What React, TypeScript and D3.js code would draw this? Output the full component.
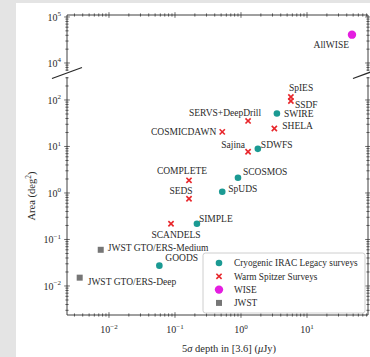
import React from 'react';
import * as d3 from 'd3';

// survey name, 5-sigma depth at 3.6um (uJy), area (deg^2), group
const surveys = ['AllWISE', 'SpIES', 'SSDF', 'SWIRE', 'SERVS+DeepDrill', 'COSMICDAWN', 'SHELA', 'Sajina', 'SDWFS',
  'SCOSMOS', 'SpUDS', 'SIMPLE', 'COMPLETE', 'SEDS', 'SCANDELS', 'JWST GTO/ERS-Medium', 'GOODS', 'JWST GTO/ERS-Deep'];
const depths = [48, 5.7, 5.7, 3.5, 1.28, 0.52, 3.2, 1.28, 1.8, 0.9, 0.52, 0.215, 0.163, 0.163, 0.087, 0.0075, 0.058, 0.0036];
const areas = [41253, 116, 95, 51, 35.4, 20.6, 24.4, 7.7, 8.9, 2.12, 1.06, 0.218, 1.87, 0.75, 0.218, 0.06, 0.0274, 0.0151];
const groups = ['WISE', 'Warm', 'Warm', 'Cryo', 'Warm', 'Warm', 'Warm', 'Warm', 'Cryo', 'Cryo', 'Cryo', 'Cryo',
  'Warm', 'Warm', 'Warm', 'JWST', 'Cryo', 'JWST'];

const legendKeys = ['Cryo', 'Warm', 'WISE', 'JWST'];
const legendLabels = ['Cryogenic IRAC Legacy surveys', 'Warm Spitzer Surveys', 'WISE', 'JWST'];

const xTickExps = [-2, -1, 0, 1];
const yUpperTickExps = [4, 5];
const yLowerTickExps = [-2, -1, 0, 1, 2];

const colors: Record<string, string> = { Cryo: '#1b9a93', Warm: '#e8262b', WISE: '#e41ee0', JWST: '#767676' };

// label placement next to each point: [dx, dy, anchor]
const labelPos: Record<string, [number, number, string]> = {
  AllWISE: [-3, 10, 'end'],
  SpIES: [-2, -9, 'start'],
  SSDF: [4, 4, 'start'],
  SWIRE: [7, 0, 'start'],
  'SERVS+DeepDrill': [-23, -8, 'middle'],
  COSMICDAWN: [-6, 0, 'end'],
  SHELA: [8, -3, 'start'],
  Sajina: [-3, -7, 'end'],
  SDWFS: [3, -4, 'start'],
  SCOSMOS: [5, -6, 'start'],
  SpUDS: [6, -3, 'start'],
  SIMPLE: [2, -5, 'start'],
  COMPLETE: [-7, -10, 'middle'],
  SEDS: [-8, -8, 'middle'],
  SCANDELS: [5, 11, 'middle'],
  'JWST GTO/ERS-Medium': [7, -2, 'start'],
  GOODS: [6, -8, 'start'],
  'JWST GTO/ERS-Deep': [8, 4, 'start'],
};

const W = 370;
const H = 357;
const left = 67;
const right = 368;
const upperTop = 15;
const upperBottom = 71;
const lowerTop = 77;
const lowerBottom = 315;
const font = '"Liberation Serif", "Times New Roman", serif';
const ink = '#2a2a2a';

function minorTicks(lo: number, hi: number) {
  const out: number[] = [];
  for (let e = Math.floor(Math.log10(lo)) - 1; e <= Math.ceil(Math.log10(hi)); e++) {
    for (let m = 1; m <= 9; m++) {
      const v = m * Math.pow(10, e);
      if (v >= lo && v <= hi) out.push(v);
    }
  }
  return out;
}

function Pow({ x, y, exp, anchor }: { x: number; y: number; exp: number; anchor: string }) {
  const e = exp < 0 ? '\u2212' + Math.abs(exp) : String(exp);
  return (
    <text x={x} y={y} textAnchor={anchor} fontFamily={font} fontSize={10} fill={ink}>
      <tspan>10</tspan>
      <tspan dy={-4.5} fontSize={7}>{e}</tspan>
    </text>
  );
}

function Marker({ g, x, y, s = 1 }: { g: string; x: number; y: number; s?: number }) {
  const c = colors[g];
  if (g === 'Warm') {
    const r = 2.6 * s;
    return (
      <g stroke={c} strokeWidth={1.6}>
        <line x1={x - r} y1={y - r} x2={x + r} y2={y + r} />
        <line x1={x - r} y1={y + r} x2={x + r} y2={y - r} />
      </g>
    );
  }
  if (g === 'JWST') return <rect x={x - 3} y={y - 3} width={6} height={6} fill={c} />;
  if (g === 'WISE') return <circle cx={x} cy={y} r={4.2} fill={c} />;
  return <circle cx={x} cy={y} r={3.3} fill={c} />;
}

export default function App() {
  const x = d3.scaleLog().domain([Math.pow(10, -2.636), Math.pow(10, 1.924)]).range([left, right]);
  const yUp = d3.scaleLog().domain([Math.pow(10, 3.826), Math.pow(10, 5.043)]).range([upperBottom, upperTop]);
  const yLo = d3.scaleLog().domain([Math.pow(10, -2.624), Math.pow(10, 2.494)]).range([lowerBottom, lowerTop]);
  const yOf = (a: number) => (a > 1000 ? yUp(a) : yLo(a));

  const [x0, x1] = x.domain();
  const xMinor = minorTicks(x0, x1);
  const upMinor = minorTicks(yUp.domain()[0], yUp.domain()[1]);
  const loMinor = minorTicks(yLo.domain()[0], yLo.domain()[1]);
  const isMajor = (v: number) => Math.abs(Math.log10(v) - Math.round(Math.log10(v))) < 1e-6;

  const ticksV = (vals: number[], scale: (v: number) => number, yLine: number, key: string) =>
    vals.map((v, i) => {
      const len = isMajor(v) ? 2.8 : 1.6;
      const px = scale(v);
      return <line key={key + i} x1={px} x2={px} y1={yLine - len} y2={yLine + len} stroke={ink} strokeWidth={0.7} />;
    });
  const ticksH = (vals: number[], scale: (v: number) => number, xLine: number, key: string) =>
    vals.map((v, i) => {
      const len = isMajor(v) ? 2.8 : 1.6;
      const py = scale(v);
      return <line key={key + i} y1={py} y2={py} x1={xLine - len} x2={xLine + len} stroke={ink} strokeWidth={0.7} />;
    });

  const legX = 203;
  const legY = 253;

  return (
    <div style={{ position: 'absolute', left: 0, top: 0 }}>
      <svg width={W} height={H} style={{ display: 'block' }}>
        <rect x={0} y={0} width={W} height={H} fill="#e4e4e4" />
        <rect x={16} y={3} width={W - 16} height={H - 3} fill="#ffffff" />

        {/* spines */}
        <path d={`M${left},${upperBottom}V${upperTop}H${right}V${upperBottom}`} fill="none" stroke={ink} strokeWidth={0.9} />
        <path d={`M${left},${lowerTop}V${lowerBottom}H${right}V${lowerTop}`} fill="none" stroke={ink} strokeWidth={0.9} />

        {/* break marks */}
        {[left, right].map((bx) => (
          <line key={'brk' + bx} x1={bx - 15} y1={78.5} x2={bx + 15} y2={67.5} stroke={ink} strokeWidth={1.3} />
        ))}

        {/* ticks */}
        {ticksV(xMinor, x, upperTop, 'xt')}
        {ticksV(xMinor, x, lowerBottom, 'xb')}
        {ticksH(upMinor, yUp, left, 'ul')}
        {ticksH(upMinor, yUp, right, 'ur')}
        {ticksH(loMinor, yLo, left, 'll')}
        {ticksH(loMinor, yLo, right, 'lr')}

        {/* tick labels */}
        {xTickExps.map((e) => (
          <Pow key={'xl' + e} x={x(Math.pow(10, e))} y={333} exp={e} anchor="middle" />
        ))}
        {yUpperTickExps.map((e) => (
          <Pow key={'yu' + e} x={61} y={yUp(Math.pow(10, e)) + 4} exp={e} anchor="end" />
        ))}
        {yLowerTickExps.map((e) => (
          <Pow key={'yl' + e} x={61} y={yLo(Math.pow(10, e)) + 4} exp={e} anchor="end" />
        ))}

        {/* axis titles */}
        <text x={229} y={352} textAnchor="middle" fontFamily={font} fontSize={10.5} fill={ink}>
          5<tspan fontStyle="italic">σ</tspan> depth in [3.6] (<tspan fontStyle="italic">μ</tspan>Jy)
        </text>
        <text transform={`translate(35,${(lowerTop + lowerBottom) / 2}) rotate(-90)`} textAnchor="middle"
          fontFamily={font} fontSize={10.5} fill={ink}>
          Area (deg<tspan dy={-4} fontSize={7.5}>2</tspan><tspan dy={4}>)</tspan>
        </text>

        {/* points */}
        {surveys.map((name, i) => (
          <Marker key={'m' + name} g={groups[i]} x={x(depths[i])} y={yOf(areas[i])} />
        ))}
        {surveys.map((name, i) => {
          const [dx, dy, anchor] = labelPos[name];
          return (
            <text key={'t' + name} x={x(depths[i]) + dx} y={yOf(areas[i]) + dy} dy="0.35em" textAnchor={anchor}
              fontFamily={font} fontSize={9.5} fill={ink}>
              {name}
            </text>
          );
        })}

        {/* legend */}
        <rect x={legX} y={legY} width={162} height={60} rx={2.5} fill="#ffffff" fillOpacity={0.85} stroke="#c8c8c8" strokeWidth={0.9} />
        {legendKeys.map((k, i) => (
          <g key={'lg' + k}>
            <Marker g={k} x={legX + 16} y={legY + 10 + i * 13.3} />
            <text x={legX + 31} y={legY + 10 + i * 13.3} dy="0.35em" fontFamily={font} fontSize={9.3} fill={ink}>
              {legendLabels[i]}
            </text>
          </g>
        ))}
      </svg>
    </div>
  );
}
